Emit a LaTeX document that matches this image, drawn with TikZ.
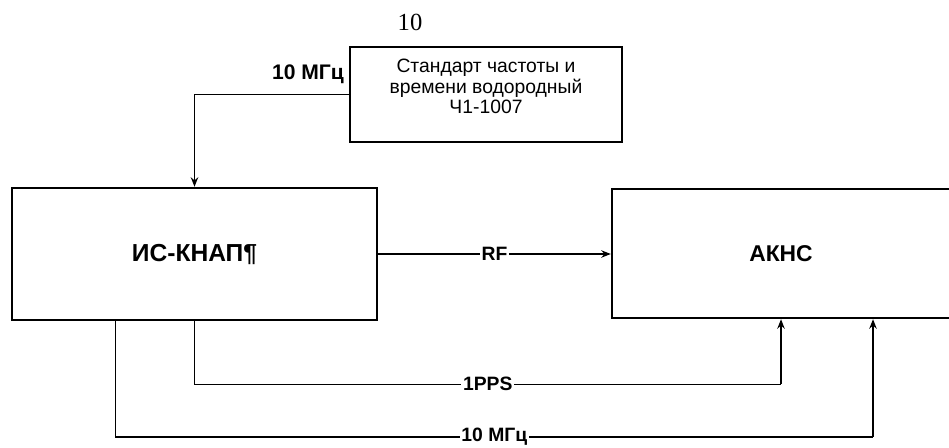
\documentclass[tikz,border=0pt]{standalone}
\usepackage{fontspec}
\setmainfont{Liberation Sans}
\newfontfamily\pagenumfont{Liberation Serif}
\usetikzlibrary{arrows.meta,positioning,calc}
\tikzset{
  blk/.style={draw=black, line width=1.4pt, inner sep=0pt},
  conn/.style={-{Stealth[length=1.9mm, width=1.5mm]}, black, line width=0.8pt},
  wire/.style={black, line width=0.8pt},
  lbl/.style={font=\fontsize{11}{12}\selectfont\bfseries, fill=white, inner sep=1pt},
  ttl/.style={font=\fontsize{14}{16}\selectfont\bfseries},
}

\begin{document}
\begin{tikzpicture}
  \useasboundingbox (0,0) rectangle (18.98,8.94);
  % page number
  \node[font=\pagenumfont\fontsize{14}{16}\selectfont] (pnum) at (8.2,8.5) {10};
  % blocks
  \node[blk, minimum width=5.44cm, minimum height=1.9cm] (std) at (9.72,7.05) {};
  \node[align=center, font=\fontsize{11}{11.8}\selectfont, below=0.14cm of std.north] (stdtxt)
    {Стандарт частоты и\\времени водородный\\Ч1-1007};
  \node[blk, ttl, minimum width=7.3cm, minimum height=2.64cm,
        text width=7.05cm, align=center] (ins) at (3.89,3.86) {ИС-КНАП¶\hspace*{0.25cm}};
  \node[blk, ttl, font=\fontsize{13}{15}\selectfont\bfseries,
        minimum width=6.76cm, minimum height=2.58cm] (akns) at (15.62,3.87) {АКНС};
  % 10 MHz reference input
  \node[lbl, fill=none, font=\fontsize{12}{13}\selectfont\bfseries, anchor=east] (reflbl) at (6.92,7.46) {10 МГц};
  \draw[conn] (std.west) -| (ins.north);
  % RF
  \draw[conn] (ins.east) -- node[lbl] (rflbl) {RF} (akns.west |- ins.east);
  % 1PPS
  \coordinate (ppsa) at ($(ins.south)+(0,-1.26)$);
  \coordinate (ppsb) at (akns.south |- ppsa);
  \draw[wire] (ins.south) -- (ppsa) -- node[lbl] (ppslbl) {1PPS} (ppsb);
  \draw[conn] (ppsb) -- (akns.south);
  % 10 MHz out
  \coordinate (clka) at ($(ins.south west)+(2.1,0)$);
  \coordinate (clkb) at ($(clka |- 0,0.2)$);
  \coordinate (clkc) at (17.46,0.2);
  \coordinate (clkd) at (clkc |- akns.south);
  \draw[wire] (clka) -- (clkb) -- node[lbl] (clklbl) {10 МГц} (clkc);
  \draw[conn] (clkc) -- (clkd);
\end{tikzpicture}
\end{document}
